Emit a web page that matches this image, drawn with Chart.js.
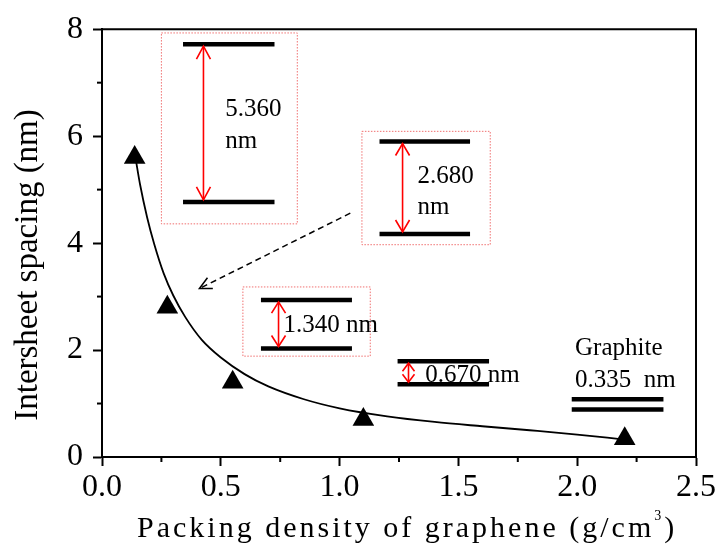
<!DOCTYPE html>
<html>
<head>
<meta charset="utf-8">
<script src="https://cdn.jsdelivr.net/npm/chart.js@4/dist/chart.umd.min.js"></script>
<style>
  html, body { margin: 0; padding: 0; background: #fff; }
  #wrap { width: 722px; height: 547px; }
</style>
</head>
<body>
<div id="wrap"><canvas id="chart" width="722" height="547"></canvas></div>
<script>
// --- Measured stacks: packing density (g/cm3) vs intersheet spacing (nm) ---
const density = [0.1375, 0.275, 0.55, 1.1, 2.2];
const spacing = [5.60, 2.80, 1.40, 0.70, 0.34];

// --- Fitted decay curve, sampled along the drawn line ---
const fitX = [0.14, 0.16, 0.19, 0.22, 0.26, 0.30, 0.35, 0.42, 0.50, 0.60, 0.70, 0.85, 1.0, 1.2, 1.4, 1.6, 1.8, 2.0, 2.19];
const fitY = [5.62, 5.10, 4.48, 3.98, 3.43, 3.02, 2.62, 2.19, 1.86, 1.55, 1.32, 1.08, 0.91, 0.76, 0.655, 0.575, 0.50, 0.42, 0.33];

const SERIF = "'Liberation Serif', 'Times New Roman', serif";

// --- Sheet sketches drawn inside the plot (data coordinates) ---
const sketches = [
  { x0: 0.341, x1: 0.726, top: 7.72, bot: 4.77, arrowX: 0.427, head: 13, hw: 7,
    frame: [0.25, 0.822, 7.93, 4.36], text: [["5.360", 0.519, 6.37], ["nm", 0.519, 5.78]] },
  { x0: 1.168, x1: 1.549, top: 5.90, bot: 4.17, arrowX: 1.265, head: 12, hw: 7,
    frame: [1.094, 1.634, 6.09, 3.97], text: [["2.680", 1.328, 5.12], ["nm", 1.328, 4.545]] },
  { x0: 0.669, x1: 1.052, top: 2.934, bot: 2.03, arrowX: 0.743, head: 11, hw: 7,
    frame: [0.593, 1.129, 3.18, 1.886], text: [["1.340 nm", 0.764, 2.34]] },
  { x0: 1.244, x1: 1.629, top: 1.792, bot: 1.361, arrowX: 1.29, head: 8, hw: 6,
    frame: null, text: [["0.670 nm", 1.36, 1.40]] },
  { x0: 1.977, x1: 2.363, top: 1.08, bot: 0.888, arrowX: null,
    frame: null, text: [["Graphite", 1.991, 1.905], ["0.335  nm", 1.991, 1.311]] }
];
const pointer = { from: [1.045, 4.56], to: [0.41, 3.15] };

// --- helpers ---
function openHead(ctx, tx, ty, fx, fy, len, hw) {
  const a = Math.atan2(ty - fy, tx - fx);
  const bx = tx - len * Math.cos(a), by = ty - len * Math.sin(a);
  const px = -Math.sin(a) * hw, py = Math.cos(a) * hw;
  ctx.beginPath();
  ctx.moveTo(bx + px, by + py);
  ctx.lineTo(tx, ty);
  ctx.lineTo(bx - px, by - py);
  ctx.stroke();
}

const framePlugin = {
  id: "frame",
  afterDraw(chart) {
    const { ctx, chartArea: a } = chart;
    ctx.save();
    ctx.strokeStyle = "#000";
    ctx.lineWidth = 2;
    ctx.beginPath();
    ctx.moveTo(a.left, a.top);
    ctx.lineTo(a.right, a.top);
    ctx.lineTo(a.right, a.bottom);
    ctx.stroke();

    // minor ticks halfway between the labelled ones
    const xs = chart.scales.x, ys = chart.scales.y;
    for (let v = 0.25; v < 2.5; v += 0.5) {
      const p = xs.getPixelForValue(v);
      ctx.beginPath(); ctx.moveTo(p, a.bottom); ctx.lineTo(p, a.bottom + 5); ctx.stroke();
    }
    for (let v = 1; v < 8; v += 2) {
      const p = ys.getPixelForValue(v);
      ctx.beginPath(); ctx.moveTo(a.left, p); ctx.lineTo(a.left - 5, p); ctx.stroke();
    }
    ctx.restore();
  }
};

const sketchPlugin = {
  id: "sketches",
  afterDatasetsDraw(chart) {
    const { ctx } = chart;
    const X = (v) => chart.scales.x.getPixelForValue(v);
    const Y = (v) => chart.scales.y.getPixelForValue(v);
    ctx.save();
    sketches.forEach((s) => {
      if (s.frame) {
        ctx.strokeStyle = "#f07070";
        ctx.lineWidth = 1;
        ctx.setLineDash([1.5, 1.5]);
        const [fx0, fx1, fy0, fy1] = s.frame;
        ctx.strokeRect(X(fx0), Y(fy0), X(fx1) - X(fx0), Y(fy1) - Y(fy0));
        ctx.setLineDash([]);
      }
      // the two sheets
      ctx.strokeStyle = "#000";
      ctx.lineWidth = 4.5;
      [s.top, s.bot].forEach((y) => {
        ctx.beginPath();
        ctx.moveTo(X(s.x0), Y(y));
        ctx.lineTo(X(s.x1), Y(y));
        ctx.stroke();
      });
      // red double arrow for the gap
      if (s.arrowX !== null) {
        const ax = X(s.arrowX), t = Y(s.top) + 2, b = Y(s.bot) - 2;
        ctx.strokeStyle = "#ff0000";
        ctx.lineWidth = 1.6;
        ctx.beginPath(); ctx.moveTo(ax, t); ctx.lineTo(ax, b); ctx.stroke();
        openHead(ctx, ax, t, ax, b, s.head, s.hw);
        openHead(ctx, ax, b, ax, t, s.head, s.hw);
      }
      ctx.fillStyle = "#000";
      ctx.font = "25px " + SERIF;
      ctx.textAlign = "left";
      ctx.textBaseline = "alphabetic";
      s.text.forEach(([txt, x, y]) => ctx.fillText(txt, X(x), Y(y)));
    });

    // dashed pointer towards the curve
    const fx = X(pointer.from[0]), fy = Y(pointer.from[1]);
    const tx = X(pointer.to[0]), ty = Y(pointer.to[1]);
    ctx.strokeStyle = "#000";
    ctx.lineWidth = 1.5;
    ctx.setLineDash([6, 4]);
    ctx.beginPath(); ctx.moveTo(fx, fy); ctx.lineTo(tx, ty); ctx.stroke();
    ctx.setLineDash([]);
    openHead(ctx, tx, ty, fx, fy, 12, 6);
    ctx.restore();
  }
};

const titlePlugin = {
  id: "titles",
  afterDraw(chart) {
    const { ctx } = chart;
    ctx.save();
    ctx.fillStyle = "#000";
    ctx.textBaseline = "alphabetic";

    // y title
    ctx.save();
    ctx.translate(37, 265);
    ctx.rotate(-Math.PI / 2);
    ctx.font = "33px " + SERIF;
    ctx.textAlign = "center";
    ctx.fillText("Intersheet spacing (nm)", 0, 0);
    ctx.restore();

    // x title with superscript
    ctx.textAlign = "left";
    ctx.font = "30px " + SERIF;
    ctx.letterSpacing = "3px";
    let x = 137;
    const base = 537;
    const main = "Packing density of graphene (g/cm";
    ctx.fillText(main, x, base);
    x += ctx.measureText(main).width;
    ctx.font = "14px " + SERIF;
    ctx.letterSpacing = "0px";
    ctx.fillText("3", x, base - 17);
    x += ctx.measureText("3").width + 3;
    ctx.font = "30px " + SERIF;
    ctx.fillText(")", x, base);
    ctx.restore();
  }
};

new Chart(document.getElementById("chart"), {
  type: "scatter",
  data: {
    datasets: [
      {
        label: "fit",
        data: fitX.map((x, i) => ({ x, y: fitY[i] })),
        showLine: true,
        borderColor: "#000",
        borderWidth: 1.8,
        pointRadius: 0,
        cubicInterpolationMode: "monotone",
        fill: false
      },
      {
        label: "spacing",
        data: density.map((x, i) => ({ x, y: spacing[i] })),
        pointStyle: "triangle",
        pointRadius: 12.5,
        backgroundColor: "#000",
        borderColor: "#000",
        borderWidth: 0
      }
    ]
  },
  options: {
    responsive: false,
    animation: false,
    layout: { padding: { left: 0, top: 29, right: 26, bottom: 0 } },
    plugins: { legend: { display: false }, tooltip: { enabled: false } },
    scales: {
      x: {
        type: "linear",
        min: 0, max: 2.5,
        afterFit: (s) => { s.height = 90; },
        ticks: {
          stepSize: 0.5,
          color: "#000",
          padding: 2,
          font: { family: SERIF, size: 32 },
          callback: (v) => Number(v).toFixed(1)
        },
        grid: { drawOnChartArea: false, drawTicks: true, tickLength: 9, tickWidth: 2, tickColor: "#000" },
        border: { color: "#000", width: 2 }
      },
      y: {
        min: 0, max: 8,
        afterFit: (s) => { s.width = 102; },
        ticks: {
          stepSize: 2,
          color: "#000",
          padding: 10,
          font: { family: SERIF, size: 32 },
          callback: (v) => String(v)
        },
        grid: { drawOnChartArea: false, drawTicks: true, tickLength: 9, tickWidth: 2, tickColor: "#000" },
        border: { color: "#000", width: 2 }
      }
    }
  },
  plugins: [framePlugin, sketchPlugin, titlePlugin]
});
</script>
</body>
</html>
